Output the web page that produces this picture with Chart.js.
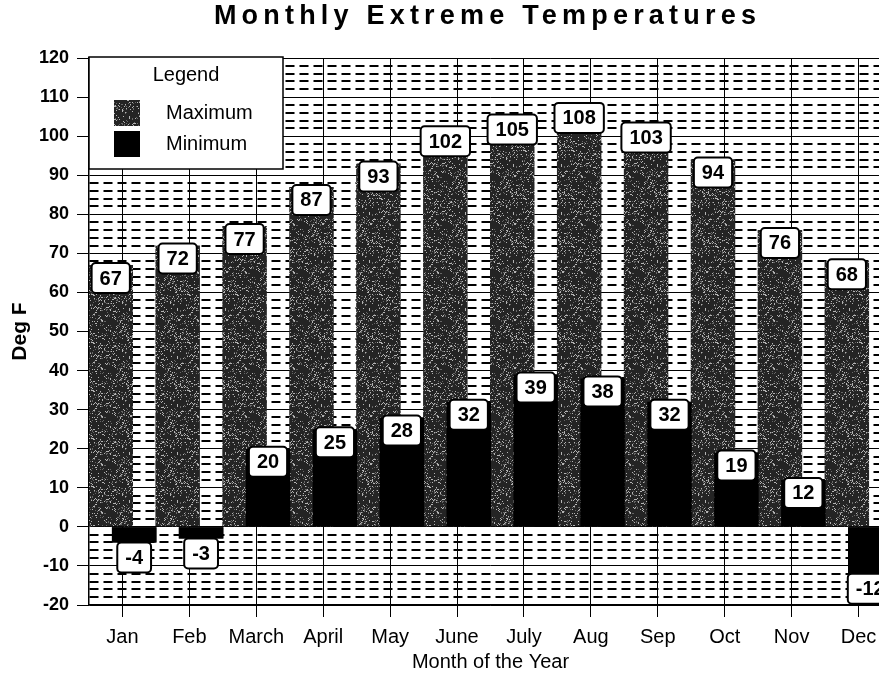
<!DOCTYPE html>
<html>
<head>
<meta charset="utf-8">
<title>Monthly Extreme Temperatures</title>
<script src="https://cdn.jsdelivr.net/npm/chart.js@4"></script>
<style>
  html, body { margin: 0; padding: 0; background: #fff; overflow: hidden; }
  canvas { display: block; }
</style>
</head>
<body>
<canvas id="chart" width="893" height="674"></canvas>
<script>
const months = ['Jan', 'Feb', 'March', 'April', 'May', 'June', 'July', 'Aug', 'Sep', 'Oct', 'Nov', 'Dec'];
const maxTemps = [67, 72, 77, 87, 93, 102, 105, 108, 103, 94, 76, 68];
const minTemps = [-4, -3, 20, 25, 28, 32, 39, 38, 32, 19, 12, -12];
const yMin = -20;
const yMax = 120;
const yStep = 2;      // minor (dashed) lines
const yLabelStep = 10; // labelled, solid lines

const FONT = '"Liberation Sans", Arial, sans-serif';

// speckled dark grey fill for the Maximum bars
function speckle() {
  const c = document.createElement('canvas');
  c.width = 48; c.height = 48;
  const g = c.getContext('2d');
  g.fillStyle = '#242424';
  g.fillRect(0, 0, 48, 48);
  let s = 7;
  for (let i = 0; i < 48 * 48; i++) {
    s = (s * 1103515245 + 12345) & 0x7fffffff;
    const r = s % 100;
    if (r < 13) {
      g.fillStyle = r < 5 ? '#b4b4b4' : '#666';
      g.fillRect(i % 48, Math.floor(i / 48), 1, 1);
    }
  }
  return g.createPattern(c, 'repeat');
}

const ctx = document.getElementById('chart').getContext('2d');
const maxFill = speckle();

const isMajor = c => c.tick && c.tick.value % yLabelStep === 0;

function roundBox(g, x, y, w, h, r) {
  g.beginPath();
  g.moveTo(x + r, y);
  g.arcTo(x + w, y, x + w, y + h, r);
  g.arcTo(x + w, y + h, x, y + h, r);
  g.arcTo(x, y + h, x, y, r);
  g.arcTo(x, y, x + w, y, r);
  g.closePath();
}

// min bars sit in front of the max bars, then the value boxes
const barLabels = {
  id: 'barLabels',
  afterDatasetsDraw(chart) {
    const g = chart.ctx;
    chart.getDatasetMeta(1).controller.draw();
    g.save();
    g.font = 'bold 20px ' + FONT;
    g.textAlign = 'center';
    g.textBaseline = 'middle';
    chart.data.datasets.forEach((ds, di) => {
      chart.getDatasetMeta(di).data.forEach((el, i) => {
        const txt = String(ds.data[i]);
        const w = g.measureText(txt).width + 16;
        const h = 30;
        const top = ds.data[i] >= 0 ? el.y - 2 : el.y;
        roundBox(g, el.x - w / 2, top, w, h, 4);
        g.fillStyle = '#fff';
        g.fill();
        g.lineWidth = 2;
        g.strokeStyle = '#000';
        g.stroke();
        g.fillStyle = '#000';
        g.fillText(txt, el.x, top + h / 2 + 1);
      });
    });
    g.restore();
  }
};

const boxLegend = {
  id: 'boxLegend',
  afterDraw(chart) {
    const g = chart.ctx;
    const a = chart.chartArea;
    const x = a.left, y = a.top - 1;
    g.save();
    g.fillStyle = '#fff';
    g.fillRect(x, y, 194, 112);
    g.lineWidth = 1.5;
    g.strokeStyle = '#000';
    g.strokeRect(x, y, 194, 112);
    g.fillStyle = '#000';
    g.font = '20px ' + FONT;
    g.textAlign = 'center';
    g.textBaseline = 'middle';
    g.fillText('Legend', x + 97, y + 18);
    g.textAlign = 'left';
    chart.data.datasets.forEach((ds, i) => {
      const sy = y + 43 + i * 31;
      g.fillStyle = ds.backgroundColor;
      g.fillRect(x + 25, sy, 26, 26);
      g.fillStyle = '#000';
      g.fillText(ds.label, x + 77, sy + 13);
    });
    g.restore();
  }
};

const spacedTitle = {
  id: 'spacedTitle',
  afterDraw(chart) {
    const g = chart.ctx;
    const a = chart.chartArea;
    g.save();
    g.font = 'bold 27px ' + FONT;
    g.letterSpacing = '5.2px';
    g.textAlign = 'center';
    g.textBaseline = 'alphabetic';
    g.fillStyle = '#000';
    g.fillText('Monthly Extreme Temperatures', (a.left + a.right) / 2 - 3, 24);
    g.restore();
  }
};

new Chart(ctx, {
  type: 'bar',
  data: {
    labels: months,
    datasets: [
      {
        label: 'Maximum',
        data: maxTemps,
        backgroundColor: maxFill,
        borderWidth: 0,
        categoryPercentage: 0.7,
        barPercentage: 1.9
      },
      {
        label: 'Minimum',
        data: minTemps,
        backgroundColor: '#000',
        borderWidth: 0,
        categoryPercentage: 0.7,
        barPercentage: 1.9
      }
    ]
  },
  options: {
    responsive: false,
    animation: false,
    layout: { padding: { top: 58, right: 1, left: 0, bottom: 0 } },
    plugins: {
      legend: { display: false },
      tooltip: { enabled: false },
      title: { display: false }
    },
    scales: {
      x: {
        offset: true,
        grid: { offset: false, color: '#000', lineWidth: 1, tickLength: 12, tickColor: '#000' },
        border: { color: '#000', width: 1.5 },
        ticks: { color: '#000', font: { family: FONT, size: 20 }, padding: 8, maxRotation: 0, autoSkip: false },
        title: {
          display: true,
          text: 'Month of the Year',
          color: '#000',
          font: { family: FONT, size: 20 },
          padding: { top: 0, bottom: 0 }
        },
        afterFit: s => { s.height = 69; }
      },
      y: {
        min: yMin,
        max: yMax,
        ticks: {
          stepSize: yStep,
          maxTicksLimit: 100,
          autoSkip: false,
          color: '#000',
          font: { family: FONT, size: 18, weight: 'bold' },
          padding: 8,
          callback: v => (v % yLabelStep === 0 ? v : '')
        },
        grid: {
          color: '#000',
          lineWidth: c => (isMajor(c) ? 1 : 2),
          tickLength: 12,
          tickColor: c => (isMajor(c) ? '#000' : 'rgba(0,0,0,0)')
        },
        border: {
          color: '#000',
          width: 1.5,
          dash: c => (c.tick && !isMajor(c) ? [9, 5] : [])
        },
        title: {
          display: true,
          text: 'Deg F',
          color: '#000',
          font: { family: FONT, size: 21, weight: 'bold' },
          padding: { top: 8, bottom: 0 }
        },
        afterFit: s => { s.width = 89; }
      }
    }
  },
  plugins: [barLabels, boxLegend, spacedTitle]
});
</script>
</body>
</html>
